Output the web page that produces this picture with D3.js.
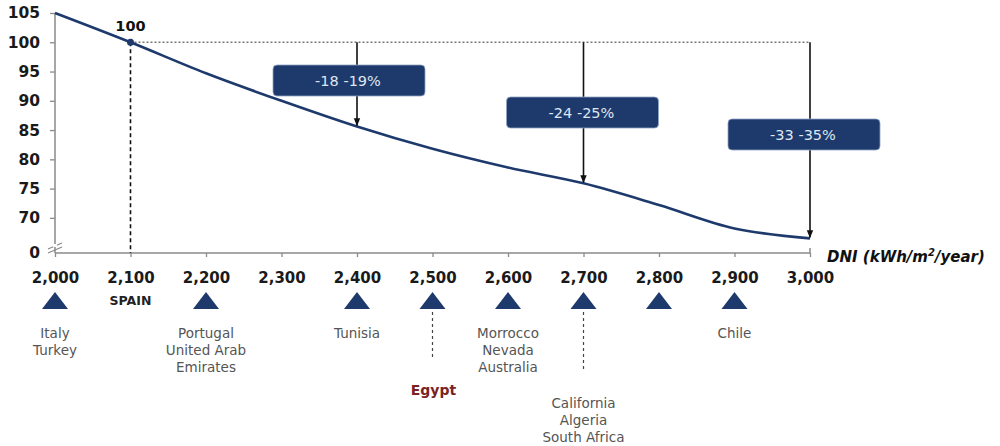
<!DOCTYPE html>
<html><head><meta charset="utf-8">
<script src="https://cdn.jsdelivr.net/npm/d3@7"></script>
<style>body{margin:0;background:#fff}svg{display:block;font-family:"DejaVu Sans",sans-serif}</style>
</head><body><svg id="c" width="1000" height="446"></svg>
<script>
const dni = [2000,2100,2200,2300,2400,2500,2600,2700,2800,2900,3000];
const costIndex = [105,100,94.7,90,85.6,81.8,78.6,75.9,72.2,68.2,66.5];
const xTicks = [2000,2100,2200,2300,2400,2500,2600,2700,2800,2900,3000];
const yTicks = [70,75,80,85,90,95,100,105];
const yBreakLabel = "0";
const reductions = [
  {at:2400, label:"-18 -19%"},
  {at:2700, label:"-24 -25%"},
  {at:3000, label:"-33 -35%"}
];
const sites = [
  {at:2000, names:["Italy","Turkey"]},
  {at:2200, names:["Portugal","United Arab","Emirates"]},
  {at:2400, names:["Tunisia"]},
  {at:2500, names:["Egypt"], highlight:true},
  {at:2600, names:["Morrocco","Nevada","Australia"]},
  {at:2700, names:["California","Algeria","South Africa"], low:true},
  {at:2800, names:[]},
  {at:2900, names:["Chile"]}
];
const refSite = {at:2100, name:"SPAIN", value:100};

const svg = d3.select("#c");
const x = d3.scaleLinear().domain([2000,3000]).range([55,810]);
const y = d3.scaleLinear().domain([64,105]).range([253,13]);
const navy = "#1e3a6c";
const axisCol = "#8a8a8a";
const FONT = "DejaVu Sans, sans-serif";

svg.append("defs").append("marker").attr("id","ah").attr("viewBox","0 0 10 10")
  .attr("refX",9).attr("refY",5).attr("markerWidth",5).attr("markerHeight",5).attr("orient","auto")
  .append("path").attr("d","M0,1L10,5L0,9z").attr("fill","#111");

// axes
const yAxisG = svg.append("g").attr("transform",`translate(${x(2000)},0)`)
  .call(d3.axisLeft(y).tickValues(yTicks).tickSize(5).tickFormat(d3.format("d")));
yAxisG.select(".domain").remove();
yAxisG.append("line").attr("x1",0).attr("x2",0).attr("y1",y(105)).attr("y2",y(64)).attr("stroke",axisCol).attr("stroke-width",1.5);
yAxisG.selectAll(".tick line").attr("stroke",axisCol).attr("stroke-width",1.3);
yAxisG.selectAll(".tick text").attr("x",-15).attr("font-size",15.5).attr("font-weight","bold").attr("fill","#1a1a1a").attr("font-family",FONT);
yAxisG.append("text").attr("x",-15).attr("y",y(64)).attr("dy","0.35em").attr("text-anchor","end")
  .attr("font-size",15.5).attr("font-weight","bold").attr("fill","#1a1a1a").attr("font-family",FONT).text(yBreakLabel);
// break marks
[0,4].forEach(o=>{
  yAxisG.append("line").attr("x1",-7).attr("x2",7).attr("y1",y(64)-4+o).attr("y2",y(64)-10+o)
    .attr("stroke",axisCol).attr("stroke-width",1.3);
});
yAxisG.append("rect").attr("x",-2).attr("y",y(64)-9).attr("width",4).attr("height",3).attr("fill","#fff");

const xAxisG = svg.append("g").attr("transform",`translate(0,${y(64)})`)
  .call(d3.axisBottom(x).tickValues(xTicks).tickSize(4).tickFormat(d3.format(",")));
xAxisG.select(".domain").attr("stroke",axisCol).attr("stroke-width",1.5).attr("d",`M${x(2000)},0H${x(3000)}V-5`);
xAxisG.selectAll(".tick line").attr("stroke",axisCol).attr("stroke-width",1.3);
xAxisG.selectAll(".tick text").attr("y",19).attr("font-size",15).attr("font-weight","bold").attr("fill","#1a1a1a").attr("font-family",FONT);

svg.append("text").attr("x",827).attr("y",y(64)+9).attr("font-size",15).attr("font-weight","bold").attr("font-style","italic").attr("fill","#111")
  .html('DNI (kWh/m<tspan dy="-6" font-size="10">2</tspan><tspan dy="6">/year)</tspan>');

// reference lines
svg.append("line").attr("x1",x(refSite.at)).attr("x2",x(3000)).attr("y1",y(refSite.value)).attr("y2",y(refSite.value))
  .attr("stroke","#777").attr("stroke-width",1.3).attr("stroke-dasharray","2,2");
svg.append("line").attr("x1",x(refSite.at)).attr("x2",x(refSite.at)).attr("y1",y(refSite.value)).attr("y2",y(64))
  .attr("stroke","#111").attr("stroke-width",1.6).attr("stroke-dasharray","4,3");

// curve
svg.append("path").datum(dni.map((d,i)=>[d,costIndex[i]]))
  .attr("d",d3.line().x(d=>x(d[0])).y(d=>y(d[1])).curve(d3.curveMonotoneX))
  .attr("fill","none").attr("stroke",navy).attr("stroke-width",2.6);

svg.append("circle").attr("cx",x(refSite.at)).attr("cy",y(refSite.value)).attr("r",3.5).attr("fill",navy);
svg.append("text").attr("x",x(refSite.at)).attr("y",y(refSite.value)-11).attr("text-anchor","middle")
  .attr("font-size",14.5).attr("font-weight","bold").attr("fill","#111").text(refSite.value);

// arrows and boxes
const boxOffsets = [{dx:-84,y:96},{dx:-77,y:128},{dx:-82,y:150}];
reductions.forEach((r,i)=>{
  const v = costIndex[dni.indexOf(r.at)];
  svg.append("line").attr("x1",x(r.at)).attr("x2",x(r.at)).attr("y1",y(100)).attr("y2",y(v)-1)
    .attr("stroke","#111").attr("stroke-width",1.6).attr("marker-end","url(#ah)");
  const bx = x(r.at)+boxOffsets[i].dx, by = boxOffsets[i].y-31;
  svg.append("rect").attr("x",bx).attr("y",by).attr("width",152).attr("height",31).attr("rx",4)
    .attr("fill",navy).attr("stroke","#8fa3c4").attr("stroke-width",0.8);
  svg.append("text").attr("x",bx+75).attr("y",by+15.5).attr("dy","0.35em").attr("text-anchor","middle")
    .attr("font-size",14.5).attr("fill","#dfe6f1").text(r.label);
});

// site triangles and labels
const triY = 300.5;
svg.selectAll(".tri").data(sites).enter().append("path")
  .attr("transform",s=>`translate(${x(s.at)},${triY})`).attr("d","M0,-8.5L13,8.5L-13,8.5Z").attr("fill",navy);

svg.append("text").attr("x",x(refSite.at)).attr("y",305).attr("text-anchor","middle")
  .attr("font-size",12.5).attr("font-weight","bold").attr("fill","#222").text(refSite.name);

sites.forEach(s=>{
  if(s.highlight){
    svg.append("line").attr("x1",x(s.at)).attr("x2",x(s.at)).attr("y1",312).attr("y2",360)
      .attr("stroke","#444").attr("stroke-width",1.2).attr("stroke-dasharray","3,3");
    svg.append("text").attr("x",x(s.at)+1).attr("y",395).attr("text-anchor","middle")
      .attr("font-size",14).attr("font-weight","bold").attr("fill","#7b2222").text(s.names[0]);
    return;
  }
  const y0 = s.low ? 408 : 338;
  if(s.low){
    svg.append("line").attr("x1",x(s.at)).attr("x2",x(s.at)).attr("y1",312).attr("y2",370)
      .attr("stroke","#444").attr("stroke-width",1.2).attr("stroke-dasharray","3,3");
  }
  s.names.forEach((n,j)=>{
    svg.append("text").attr("x",x(s.at)).attr("y",y0+j*16.8).attr("text-anchor","middle")
      .attr("font-size",13.5).attr("fill","#555").text(n);
  });
});
</script></body></html>
